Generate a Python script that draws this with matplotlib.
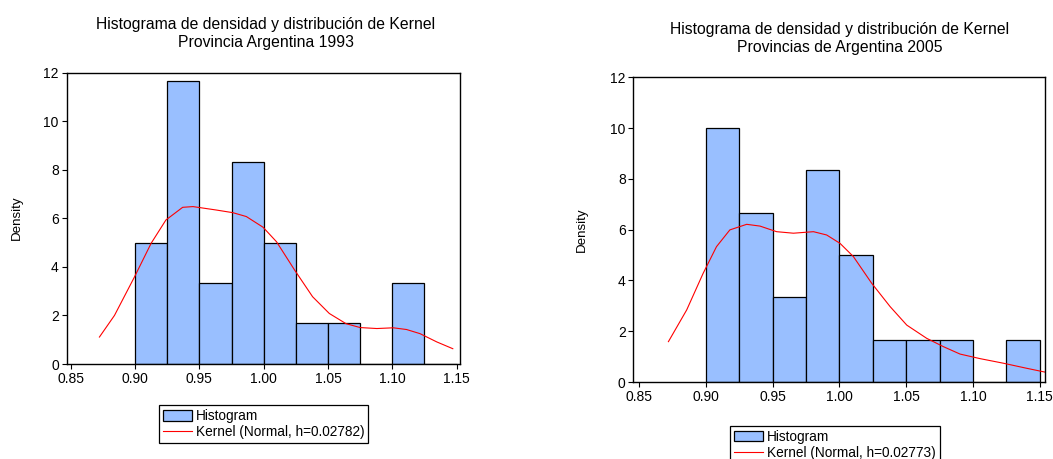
import matplotlib
matplotlib.use("Agg")
import matplotlib.pyplot as plt
from matplotlib.patches import Patch
from matplotlib.lines import Line2D

plt.rcParams['font.family'] = ['Liberation Sans', 'DejaVu Sans']

# ---- data ----
bin_edges = [0.900, 0.925, 0.950, 0.975, 1.000, 1.025, 1.050, 1.075, 1.100, 1.125, 1.150]
dens_1993 = [5.00, 11.67, 3.33, 8.33, 5.00, 1.67, 1.67, 0.00, 3.33, 0.00]
dens_2005 = [10.00, 6.67, 3.33, 8.33, 5.00, 1.67, 1.67, 1.67, 0.00, 1.67]

kx_1993 = [0.8723, 0.884, 0.8996, 0.9125, 0.924, 0.937, 0.945, 0.963, 0.976, 0.9865,
           0.9995, 1.010, 1.024, 1.038, 1.051, 1.064, 1.075, 1.088, 1.1007, 1.111,
           1.1215, 1.1345, 1.147]
ky_1993 = [1.11, 2.00, 3.59, 4.97, 5.93, 6.45, 6.48, 6.34, 6.23, 6.07,
           5.63, 5.03, 3.87, 2.77, 2.08, 1.66, 1.50, 1.46, 1.49, 1.42,
           1.25, 0.91, 0.63]

kx_2005 = [0.872, 0.8857, 0.898, 0.908, 0.918, 0.9306, 0.9406, 0.953, 0.9656, 0.9806,
           0.9905, 1.0005, 1.0105, 1.0242, 1.038, 1.0505, 1.0654, 1.078, 1.0904, 1.1054,
           1.1228, 1.1403, 1.154]
ky_2005 = [1.59, 2.84, 4.28, 5.33, 5.99, 6.21, 6.14, 5.92, 5.86, 5.92,
           5.79, 5.46, 4.94, 3.89, 2.97, 2.24, 1.72, 1.39, 1.10, 0.92,
           0.74, 0.54, 0.39]

xticks = [0.85, 0.90, 0.95, 1.00, 1.05, 1.10, 1.15]
xtick_labels = ["0.85", "0.90", "0.95", "1.00", "1.05", "1.10", "1.15"]
yticks = [0, 2, 4, 6, 8, 10, 12]

titles = ["Histograma de densidad y distribución de Kernel\nProvincia Argentina 1993",
          "Histograma de densidad y distribución de Kernel\nProvincias de Argentina 2005"]
legend_labels = [["Histogram", "Kernel (Normal, h=0.02782)"],
                 ["Histogram", "Kernel (Normal, h=0.02773)"]]

W, H = 1053, 459
fig = plt.figure(figsize=(W / 100, H / 100), dpi=100)

BAR_COLOR = "#99BFFF"
TICK_FS = 10.0
LEG_FS = 9.8


def px_axes(x0, x1, ytop, ybot):
    return fig.add_axes([x0 / W, (H - ybot) / H, (x1 - x0) / W, (ybot - ytop) / H])


def draw(ax, dens, kx, ky, xlim, title, title_xy, ylabel_xy, leg_labels, leg_xy):
    widths = [bin_edges[i + 1] - bin_edges[i] for i in range(len(dens))]
    ax.bar(bin_edges[:-1], dens, width=widths, align='edge', color=BAR_COLOR,
           edgecolor='black', linewidth=0.9)
    ax.plot(kx, ky, color='red', linewidth=0.8)
    ax.set_xlim(*xlim)
    ax.set_ylim(0, 12)
    ax.set_xticks(xticks)
    ax.set_xticklabels(xtick_labels)
    ax.set_yticks(yticks)
    ax.tick_params(axis='both', direction='out', length=3.5, width=0.8,
                   labelsize=TICK_FS, pad=2, colors='black')
    for s in ax.spines.values():
        s.set_linewidth(1.0)
        s.set_color('black')
    fig.text(title_xy[0] / W, 1 - title_xy[1] / H, title, ha='center', va='center',
             fontsize=11.3, linespacing=1.25)
    fig.text(ylabel_xy[0] / W, 1 - ylabel_xy[1] / H, "Density", rotation=90,
             ha='center', va='center', fontsize=9.6)
    handles = [Patch(facecolor=BAR_COLOR, edgecolor='black', linewidth=0.9),
               Line2D([0], [0], color='red', linewidth=0.8)]
    leg = fig.legend(handles, leg_labels, loc='upper left',
                     bbox_to_anchor=(leg_xy[0] / W, 1 - leg_xy[1] / H),
                     fontsize=LEG_FS, frameon=True, fancybox=False, framealpha=1,
                     edgecolor='black', handlelength=2.1, handleheight=0.8,
                     handletextpad=0.3, borderpad=0.3, labelspacing=0.15,
                     borderaxespad=0)
    leg.get_frame().set_linewidth(0.9)


ax1 = px_axes(66.5, 460, 72.5, 364)
draw(ax1, dens_1993, kx_1993, ky_1993, (0.8467, 1.1526), titles[0], (266, 33.5),
     (17, 218), legend_labels[0], (159, 405))

ax2 = px_axes(633.3, 1045, 77.3, 382)
draw(ax2, dens_2005, kx_2005, ky_2005, (0.8457, 1.154), titles[1], (840, 38.5),
     (582, 230), legend_labels[1], (730, 425.5))

fig.savefig("out.png", dpi=100)
